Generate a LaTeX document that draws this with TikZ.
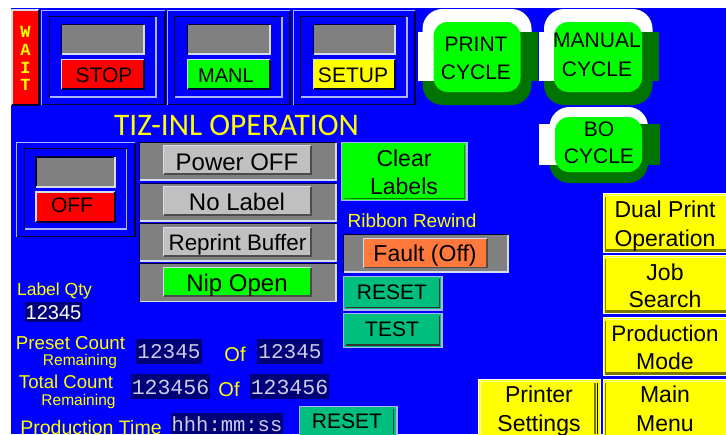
\documentclass[tikz,border=0pt]{standalone}
\usepackage{fontspec}
\setmainfont{Liberation Sans}
\newfontfamily\monof{Liberation Mono}
\newfontfamily\titlef{Carlito}
\definecolor{hmiblue}{RGB}{0,0,255}
\definecolor{lite}{RGB}{170,180,255}
\definecolor{pale}{RGB}{215,220,235}
\definecolor{dk}{RGB}{0,0,50}
\definecolor{hmigray}{RGB}{128,128,128}
\definecolor{hmigreen}{RGB}{0,255,0}
\definecolor{hmidkgreen}{RGB}{0,115,0}
\definecolor{hmisilver}{RGB}{192,192,192}
\definecolor{hmiorange}{RGB}{255,120,60}
\definecolor{hmiteal}{RGB}{0,190,125}
\definecolor{hmiyellow}{RGB}{255,255,0}
\definecolor{paleyellow}{RGB}{255,255,170}
\definecolor{hmiolive}{RGB}{120,120,0}
\definecolor{hmired}{RGB}{255,0,0}
\definecolor{navy}{RGB}{0,0,120}
\definecolor{digit}{RGB}{205,205,235}
% bevelled rectangle: x0,y0,x1,y1,fill,top-left colour,bottom-right colour
\newcommand{\bev}[7]{%
  \fill[#5] (#1,#2) rectangle (#3,#4);
  \draw[#6,line width=1.3pt] (#1,#4) -- (#1,#2) -- (#3,#2);
  \draw[#7,line width=1.3pt] (#3,#2) -- (#3,#4) -- (#1,#4);}
% text: name,x,y(centre of capitals),size,colour,text
\newcommand{\tx}[6]{\node[txt,text=#5,font=\fontsize{#4}{#4}\selectfont] (#1) at (#2,{#3+0.36*#4}) {#6};}
\newcommand{\mono}[6]{\node[txt,text=#5,font=\monof\fontsize{#4}{#4}\selectfont] (#1) at (#2,{#3+0.33*#4}) {#6};}
\newcommand{\monob}[6]{\node[txt,text=#5,font=\monof\bfseries\fontsize{#4}{#4}\selectfont] (#1) at (#2,{#3+0.33*#4}) {#6};}
% raised button with inner edge
\newcommand{\raisedbtn}[6]{%
  \fill[#5] (#1,#2) rectangle (#3,#4);
  \draw[#6,line width=1.3pt] (#1,#2) rectangle (#3,#4);}
% cycle button outline
\newcommand{\cyc}[8]{%
  \fill[hmidkgreen,rounded corners=20pt] (#1,#3) rectangle (#2,#4);
  \begin{scope}
    \clip (#1-5,#3-5) rectangle (#2+5,#7);
    \fill[white,rounded corners=20pt] (#1,#3) rectangle (#2,#4);
  \end{scope}
  \fill[white] (#5,#7) rectangle (#1+12,#8);
  \fill[hmidkgreen] (#2-12,#7) rectangle (#6,#8);
}
\tikzset{txt/.style={inner sep=0pt,outer sep=0pt,anchor=base,align=center}}
\begin{document}
\begin{tikzpicture}[x=1pt,y=-1pt]
\useasboundingbox (0,0) rectangle (726,434);
\fill[white] (0,0) rectangle (726,434);
\fill[hmiblue] (11,8) rectangle (726,434);
% WAIT
\bev{12}{10}{39}{105}{hmired}{pale}{dk}
\monob{w1}{25.5}{32}{17}{hmiyellow}{W}
\monob{w2}{25.5}{50}{17}{hmiyellow}{A}
\monob{w3}{25.5}{68}{17}{hmiyellow}{I}
\monob{w4}{25.5}{85}{17}{hmiyellow}{T}
% mode panels
\bev{41.5}{10.5}{165}{104.5}{hmiblue}{lite}{dk}
\bev{49.5}{16.5}{156}{97}{hmiblue}{dk}{lite}
\bev{61.5}{24.5}{144}{54}{hmigray}{dk}{pale}
\bev{61.5}{59.5}{144}{89}{hmired}{pale}{dk}
\tx{stop}{104}{75}{21}{black}{STOP}
\bev{167.5}{10.5}{290}{104.5}{hmiblue}{lite}{dk}
\bev{174.5}{16.5}{282}{97}{hmiblue}{dk}{lite}
\bev{187.5}{24.5}{270}{54}{hmigray}{dk}{pale}
\bev{187.5}{59.5}{270}{89}{hmigreen}{pale}{dk}
\tx{manl}{226}{75}{20}{black}{MANL}
\bev{293.5}{10.5}{415}{104.5}{hmiblue}{lite}{dk}
\bev{300.5}{16.5}{407}{97}{hmiblue}{dk}{lite}
\bev{313.5}{24.5}{395}{54}{hmigray}{dk}{pale}
\bev{313.5}{59.5}{395}{89}{hmiyellow}{pale}{dk}
\tx{setup}{353}{75}{21}{black}{SETUP}
% cycle buttons
\cyc{422.5}{531.5}{9}{105}{418}{538}{32}{81}
\fill[hmigreen,rounded corners=14pt] (433.5,22) rectangle (520.5,92);
\tx{print1}{476}{44}{21}{black}{PRINT}
\tx{print2}{476}{72}{21}{black}{CYCLE}
\cyc{544}{652.5}{9}{105}{539}{659}{32}{81}
\fill[hmigreen,rounded corners=14pt] (554,22) rectangle (642,92);
\tx{man1}{597}{40}{21}{black}{MANUAL}
\tx{man2}{597}{69}{21}{black}{CYCLE}
\cyc{549.5}{648}{107}{183}{539}{660}{124}{165}
\fill[hmigreen,rounded corners=14pt] (555,117) rectangle (642,172);
\tx{bo1}{599}{129}{21}{black}{BO}
\tx{bo2}{599}{156}{21}{black}{CYCLE}
% title
\node[txt,text=hmiyellow,font=\titlef\fontsize{31.4}{31.4}\selectfont] (title) at (236.5,135.5) {TIZ-INL OPERATION};
% OFF panel
\bev{16.5}{142.5}{135}{236.5}{hmiblue}{lite}{dk}
\bev{24.5}{148.5}{126.5}{229}{hmiblue}{dk}{lite}
\bev{36}{157}{115}{187}{hmigray}{dk}{pale}
\bev{36}{192}{115}{222}{hmired}{pale}{dk}
\tx{off}{72}{205}{21}{black}{OFF}
% status rows
\bev{139.5}{142.5}{336}{180}{hmigray}{dk}{pale}
\bev{163.5}{145.5}{311}{174}{hmisilver}{pale}{black!70}
\tx{power}{237}{162}{24}{black}{Power OFF}
\bev{139.5}{183.5}{336}{221}{hmigray}{dk}{pale}
\bev{163.5}{186.5}{311}{215}{hmisilver}{pale}{black!70}
\tx{nolabel}{237}{202}{24}{black}{No Label}
\bev{139.5}{223.5}{336}{261}{hmigray}{dk}{pale}
\bev{163.5}{227.5}{311}{256}{hmisilver}{pale}{black!70}
\tx{reprint}{237.5}{242}{22.4}{black}{Reprint Buffer}
\bev{139.5}{263.5}{336}{301.5}{hmigray}{dk}{pale}
\bev{163.5}{267.5}{311}{296}{hmigreen}{pale}{black!70}
\tx{nip}{237}{283}{24}{black}{Nip Open}
% clear labels
\raisedbtn{341.5}{142.5}{467}{200.5}{hmigreen}{lite}
\draw[hmidkgreen,line width=1.2pt] (343.5,198.5) -- (464.5,198.5) -- (464.5,145);
\tx{clear1}{404}{158}{23}{black}{Clear}
\tx{clear2}{404}{186}{23}{black}{Labels}
% ribbon rewind
\tx{ribbon}{412}{221}{19}{hmiyellow}{Ribbon Rewind}
\bev{343.5}{234.5}{508}{272}{hmigray}{dk}{pale}
\bev{363.5}{238.5}{487}{267.5}{hmiorange}{pale}{black!70}
\tx{fault}{425}{253}{23}{black}{Fault (Off)}
\raisedbtn{343.5}{276.5}{442}{310}{hmiteal}{lite}
\draw[black!80,line width=1.2pt] (346,307.5) -- (439.5,307.5) -- (439.5,279);
\tx{reset1}{392}{292}{21}{black}{RESET}
\raisedbtn{343.5}{313.5}{442}{347.5}{hmiteal}{lite}
\draw[black!80,line width=1.2pt] (346,345) -- (439.5,345) -- (439.5,316);
\tx{test}{392}{329}{21}{black}{TEST}
% yellow buttons
\foreach \ya/\yb in {193.5/252.5,255.5/313.5,317.5/375.5,379.5/445}{
  \raisedbtn{603.5}{\ya}{730}{\yb}{hmiyellow}{white}
  \draw[paleyellow,line width=1.5pt] (605.5,\ya+1.8) -- (730,\ya+1.8);
  \draw[hmiolive,line width=3pt] (606,\yb-2.5) -- (730,\yb-2.5);
  \draw[hmiolive,line width=1.2pt] (605.5,\yb-1) -- (605.5,\ya+3);
}
\raisedbtn{478.5}{379.5}{600.5}{445}{hmiyellow}{white}
\draw[paleyellow,line width=1.5pt] (480.5,434) -- (480.5,381.3) -- (598,381.3);
\draw[hmiolive,line width=1.2pt] (595,383) -- (595,434);
\draw[black,line width=1pt] (597,383) -- (597,434);
\tx{dual1}{665}{209}{23}{black}{Dual Print}
\tx{dual2}{665}{238}{23}{black}{Operation}
\tx{job1}{665}{272}{23}{black}{Job}
\tx{job2}{665}{299}{23}{black}{Search}
\tx{prod1}{665}{333}{22.4}{black}{Production}
\tx{prod2}{665}{361}{23}{black}{Mode}
\tx{main1}{665}{394}{23}{black}{Main}
\tx{main2}{665}{423}{23}{black}{Menu}
\tx{printer1}{539}{394}{23}{black}{Printer}
\tx{printer2}{539}{423}{23}{black}{Settings}
% counters
\tx{qtyl}{54.5}{289}{17.5}{hmiyellow}{Label Qty}
\fill[navy] (25,302) rectangle (82,322);
\tx{qty}{53.5}{312}{20}{white}{12345}
\tx{presetl}{70.5}{343}{18.7}{hmiyellow}{Preset Count}
\tx{presetr}{80}{360}{15.5}{hmiyellow}{Remaining}
\fill[navy] (136,339) rectangle (202,364);
\mono{preset1}{169}{352}{21}{digit}{12345}
\tx{of1}{235}{354}{20}{hmiyellow}{Of}
\fill[navy] (257,339) rectangle (323,364);
\mono{preset2}{290}{352}{21}{digit}{12345}
\tx{totall}{66}{382}{18.6}{hmiyellow}{Total Count}
\tx{totalr}{78.5}{400}{15.5}{hmiyellow}{Remaining}
\fill[navy] (131,374) rectangle (210,399);
\mono{total1}{170.5}{387}{21.5}{digit}{123456}
\tx{of2}{229}{389}{20}{hmiyellow}{Of}
\fill[navy] (250,374) rectangle (329,399);
\mono{total2}{289.5}{387}{21.5}{digit}{123456}
\tx{prodt}{91}{427}{19.5}{hmiyellow}{Production Time}
\fill[navy] (171,413) rectangle (283,434);
\mono{time}{227}{425}{20.5}{digit}{hhh:mm:ss}
\raisedbtn{299.5}{406.5}{397}{445}{hmiteal}{lite}
\draw[black!80,line width=1.2pt] (393.5,409) -- (393.5,434);
\tx{reset2}{347}{421}{21}{black}{RESET}
\end{tikzpicture}
\end{document}
